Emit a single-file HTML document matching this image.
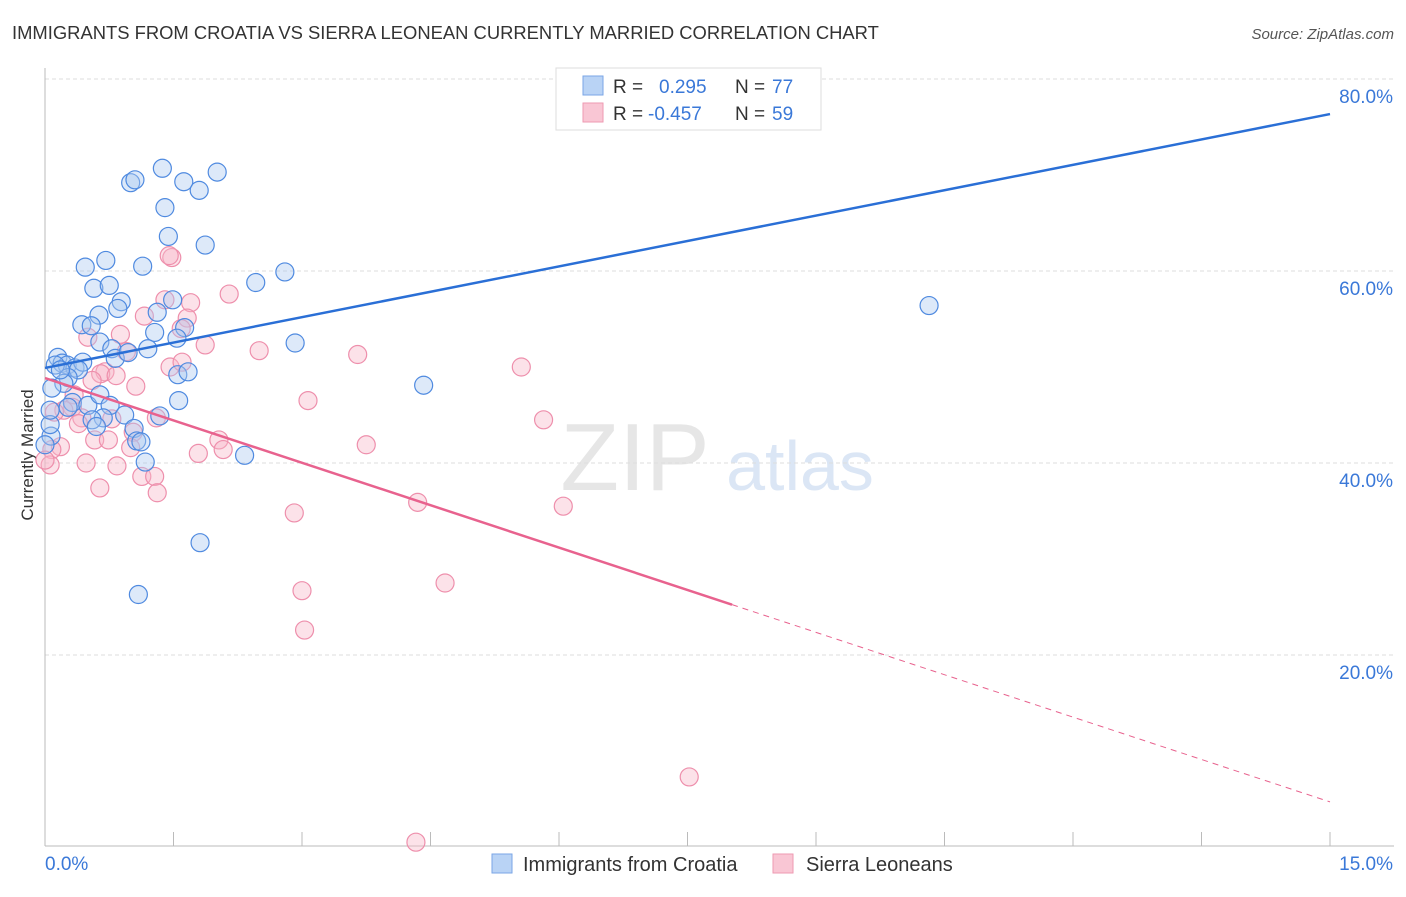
<!DOCTYPE html>
<html><head><meta charset="utf-8"><style>
body{margin:0;background:#fff;font-family:"Liberation Sans",sans-serif}
svg text{font-family:"Liberation Sans",sans-serif}
</style></head><body>
<svg id="chart" width="1406" height="892" xmlns="http://www.w3.org/2000/svg">
<text x="12" y="39" font-size="18.4" fill="#333">IMMIGRANTS FROM CROATIA VS SIERRA LEONEAN CURRENTLY MARRIED CORRELATION CHART</text>
<text x="1394" y="39" font-size="15" fill="#555" text-anchor="end" font-style="italic">Source: ZipAtlas.com</text>
<text x="33" y="455" font-size="17" fill="#333" text-anchor="middle" transform="rotate(-90 33 455)">Currently Married</text>
<g><text x="635" y="490" font-size="96" fill="#e6e6e6" text-anchor="middle" font-family="Liberation Serif">ZIP</text><text x="800" y="490" font-size="70" fill="#dbe6f5" text-anchor="middle">atlas</text></g>
<g id="grid"></g><g id="pts"></g><g id="lines"></g>
<g>
<rect x="556" y="68" width="265" height="62" fill="#fff" stroke="#ddd"/>
<rect x="583" y="76" width="20" height="19" fill="#b9d3f5" stroke="#7aa6e6"/>
<rect x="583" y="103" width="20" height="19" fill="#f9c6d4" stroke="#ee9ab2"/>
<text x="613" y="93" font-size="19" fill="#333">R =</text><text x="659" y="93" font-size="19" fill="#3a78d8">0.295</text>
<text x="735" y="93" font-size="19" fill="#333">N =</text><text x="772" y="93" font-size="19" fill="#3a78d8">77</text>
<text x="613" y="120" font-size="19" fill="#333">R =</text><text x="648" y="120" font-size="19" fill="#3a78d8">-0.457</text>
<text x="735" y="120" font-size="19" fill="#333">N =</text><text x="772" y="120" font-size="19" fill="#3a78d8">59</text>
</g>
<g>
<rect x="492" y="854" width="20" height="19" fill="#b9d3f5" stroke="#7aa6e6"/><text x="523" y="871" font-size="20" fill="#333">Immigrants from Croatia</text>
<rect x="773" y="854" width="20" height="19" fill="#f9c6d4" stroke="#ee9ab2"/><text x="806" y="871" font-size="20" fill="#333">Sierra Leoneans</text>
</g>
</svg>
<script>
const yTicks=[20,40,60,80];
const xTickLabels=["0.0%","15.0%"];
const blueX=[1.00,1.05,1.37,1.62,1.80,2.01,1.40,1.44,1.87,0.47,0.71,1.14,2.46,2.80,0.57,0.75,0.89,0.85,0.63,0.43,0.54,1.31,1.28,1.49,1.63,1.54,1.20,0.64,0.78,0.82,0.97,2.92,0.15,0.20,0.26,0.12,0.35,0.44,0.39,0.27,0.22,1.55,1.67,4.42,10.32,1.56,0.08,0.32,0.27,0.50,0.64,0.76,0.93,0.68,0.55,0.60,1.34,1.04,1.07,1.12,1.17,2.33,0.07,0.06,1.81,1.09,0.06,0.0,0.18];
const blueY=[69.2,69.5,70.7,69.3,68.4,70.3,66.6,63.6,62.7,60.4,61.1,60.5,58.8,59.9,58.2,58.5,56.8,56.1,55.4,54.4,54.3,55.7,53.6,57.0,54.1,53.0,51.9,52.6,51.9,50.9,51.5,52.5,51.0,50.4,50.2,50.2,49.9,50.5,49.7,48.9,48.3,49.2,49.5,48.1,56.4,46.5,47.8,46.3,45.8,46.0,47.1,46.0,45.0,44.7,44.5,43.8,44.9,43.6,42.3,42.2,40.1,40.8,42.8,44.0,31.7,26.3,45.5,41.9,49.7];
const pinkX=[1.48,1.45,2.15,1.70,1.40,1.66,1.16,1.59,1.87,2.50,3.65,5.56,0.88,0.50,0.95,0.70,0.65,0.83,1.06,1.46,1.60,3.07,0.55,0.34,0.32,0.22,0.11,0.43,0.39,0.78,1.03,0.58,0.74,2.03,2.08,1.79,1.00,1.30,5.82,3.75,0.18,0.08,0.06,0.48,0.84,1.13,1.28,1.31,0.64,4.35,6.05,2.91,3.00,4.67,3.03,7.52,4.33,0.0];
const pinkY=[61.4,61.6,57.6,56.7,57.0,55.1,55.3,54.0,52.3,51.7,51.3,50.0,53.4,53.1,51.6,49.5,49.3,49.1,48.0,50.0,50.5,46.5,48.6,47.1,45.8,45.5,45.3,44.7,44.1,44.6,43.2,42.4,42.4,42.4,41.4,41.0,41.6,44.7,44.5,41.9,41.7,41.4,39.8,40.0,39.7,38.6,38.6,36.9,37.4,35.9,35.5,34.8,26.7,27.5,22.6,7.3,0.5,40.3];
const blueTrend=[49.9,76.35];
const pinkTrend=[48.85,4.7];
const pinkSolidEnd=8.02;
const NS="http://www.w3.org/2000/svg";
const X=v=>45+v/15*1285, Y=v=>847-v/20*192;
function mk(t,a,p){const e=document.createElementNS(NS,t);for(const k in a)e.setAttribute(k,a[k]);p.appendChild(e);return e;}
const g=document.getElementById('grid');
yTicks.forEach(t=>{const l=mk('line',{x1:45,x2:1394,y1:Y(t),y2:Y(t),stroke:'#ddd','stroke-dasharray':'4 3'},g);


const tx=mk('text',{x:1393,y:Y(t)+24,'font-size':19,fill:'#3a78d8','text-anchor':'end'},g);tx.textContent=t.toFixed(1)+'%';

});
const ax=mk('line',{x1:45,x2:1394,y1:846,y2:846,stroke:'#bbb'},g);


const ay=mk('line',{x1:45,x2:45,y1:68,y2:846,stroke:'#bbb'},g);


for(let i=0;i<=10;i++){const tk=mk('line',{x1:X(i*1.5),x2:X(i*1.5),y1:846,y2:832,stroke:'#bbb'},g);

}
[[0,'start',45],[1,'end',1393]].forEach(([i,a,x])=>{const t=mk('text',{x:x,y:870,'font-size':19,fill:'#3a78d8','text-anchor':a},g);t.textContent=xTickLabels[i];

});
const p=document.getElementById('pts');
function dots(xs,ys,fill,stroke,name){xs.forEach((x,i)=>{const c=mk('circle',{cx:X(x),cy:Y(ys[i]),r:9,fill:fill,'fill-opacity':0.4,stroke:stroke,'stroke-width':1.2},p);

});}
dots(pinkX,pinkY,'#f7b6c8','#ee8fac','pink-point');
dots(blueX,blueY,'#a9c8f0','#4f8ae0','blue-point');
const L=document.getElementById('lines');
const bl=mk('line',{x1:X(0),y1:Y(blueTrend[0]),x2:X(15),y2:Y(blueTrend[1]),stroke:'#2a6fd6','stroke-width':2.5},L);


const py=v=>pinkTrend[0]+(pinkTrend[1]-pinkTrend[0])*v/15;
const pl=mk('line',{x1:X(0),y1:Y(pinkTrend[0]),x2:X(pinkSolidEnd),y2:Y(py(pinkSolidEnd)),stroke:'#e8628e','stroke-width':2.5},L);


const pd=mk('line',{x1:X(pinkSolidEnd),y1:Y(py(pinkSolidEnd)),x2:X(15),y2:Y(pinkTrend[1]),stroke:'#e8628e','stroke-width':1,'stroke-dasharray':'6 5'},L);


</script>
</body></html>
